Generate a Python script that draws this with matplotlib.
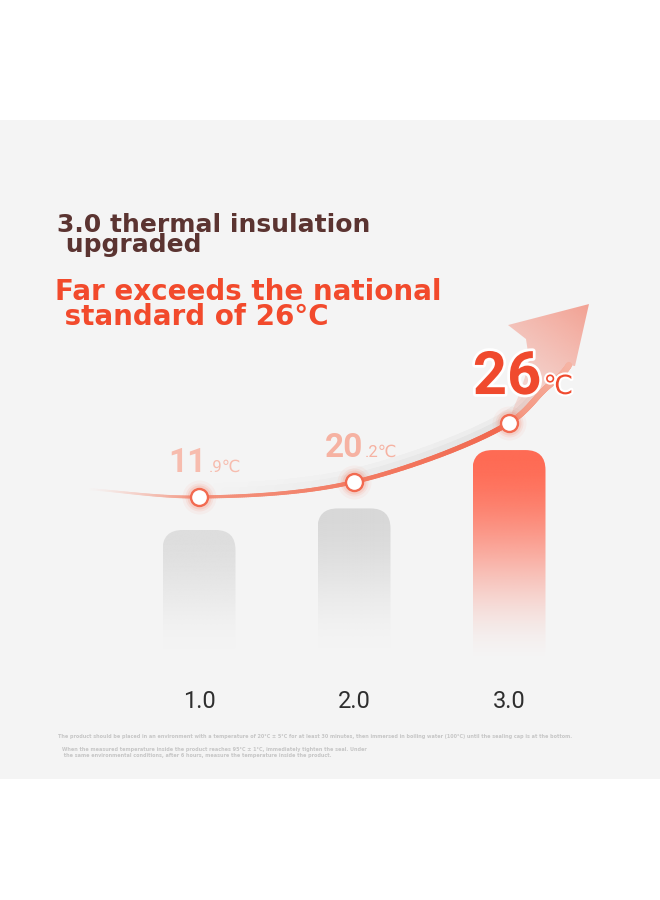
import numpy as np
import matplotlib
matplotlib.use("Agg")
import matplotlib.pyplot as plt
import matplotlib.patheffects as pe
from matplotlib.collections import LineCollection
from matplotlib.patches import FancyBboxPatch, Polygon, Rectangle
from matplotlib.colors import to_rgb

# ---------------- data ----------------
versions = [1.0, 2.0, 3.0]
version_labels = ["1.0", "2.0", "3.0"]
temps_c = [11.9, 20.2, 26.0]
title_lines = ["3.0 thermal insulation", " upgraded"]
claim_lines = ["Far exceeds the national", " standard of 26°C"]
note_lines = [
    "The product should be placed in an environment with a temperature of 20°C ± 5°C for at least 30 minutes, "
    "then immersed in boiling water (100°C) until the sealing cap is at the bottom.",
    "When the measured temperature inside the product reaches 95°C ± 1°C, immediately tighten the seal. Under",
    " the same environmental conditions, after 6 hours, measure the temperature inside the product.",
]

# ---------------- style ----------------
W, H = 660, 900
PANEL = "#f4f4f4"
RED = "#f04a2e"
BROWN = "#5b3431"
bar_colors = ["#dedede", "#d8d8d8", "#ff6a53"]
bar_fade = [1.12, 1.1, 1.02]
label_colors = ["#f7bcae", "#f6b2a2", RED]
big_sizes = [24, 24, 43]
small_sizes = [12, 12, 19]
label_offsets = [(6, 25), (7, 25), (14, 29)]   # pixels: centre shift, baseline above dot

plt.rcParams["font.family"] = ["DejaVu Sans"]

fig = plt.figure(figsize=(6.6, 9), dpi=100)
fig.patch.set_facecolor("white")

bg = fig.add_axes([0, 0, 1, 1], zorder=0)
bg.set_xlim(0, W)
bg.set_ylim(0, H)
bg.axis("off")


def Y(y_top):
    return H - y_top


def mix(c1, c2, a):
    c1 = np.array(to_rgb(c1))
    c2 = np.array(to_rgb(c2))
    return tuple(c1 * (1 - a) + c2 * a)


bg.add_patch(Rectangle((0, Y(779)), W, 659, facecolor=PANEL, edgecolor="none", zorder=0))

# ---------------- data axes (curve points) ----------------
K_CURVE = 0.258
ax = fig.add_axes([0, 401.1 / H, 1, 213.1 / H], zorder=2)
ax.set_yscale("function", functions=(lambda t: np.exp(K_CURVE * np.asarray(t, float)),
                                     lambda u: np.log(np.clip(u, 1e-12, None)) / K_CURVE))
ax.set_ylim(0, 30)
ax.set_xlim(1 - 199 / 155, 1 + (W - 199) / 155)
ax.axis("off")
ax.patch.set_visible(False)

# ---------------- bar axes ----------------
K_BAR = 0.2
axb = fig.add_axes([0, 365.4 / H, 1, 188.7 / H], sharex=ax, zorder=1)
axb.set_yscale("function", functions=(lambda t: np.exp(K_BAR * np.asarray(t, float)),
                                      lambda u: np.log(np.clip(u, 1e-12, None)) / K_BAR))
axb.set_ylim(0, 30)
axb.axis("off")
axb.patch.set_visible(False)

pts = np.column_stack([versions, temps_c])
P = ax.transData.transform(pts)      # display pixels of the points
B = axb.transData.transform(pts)     # display pixels of bar tops

# ---------------- bars ----------------
BAR_W = 73
bar_bottom = Y(668)
s = np.linspace(0, 1, 400)
for (bx, by), col, fk in zip(B, bar_colors, bar_fade):
    ss = np.clip(s * fk, 0, 1)
    alpha = 1 - (3 * ss ** 2 - 2 * ss ** 3)
    x0 = bx - BAR_W / 2
    h = by - bar_bottom
    clip = FancyBboxPatch((x0, bar_bottom), BAR_W, h,
                          boxstyle="round,pad=0,rounding_size=20",
                          facecolor="none", edgecolor="none", transform=bg.transData)
    bg.add_patch(clip)
    img = np.zeros((len(s), 1, 4))
    img[..., :3] = to_rgb(col)
    img[:, 0, 3] = alpha
    im = bg.imshow(img, extent=(x0, x0 + BAR_W, bar_bottom, by), origin="upper",
                   aspect="auto", interpolation="bilinear", zorder=1)
    im.set_clip_path(clip)


# ---------------- curve ----------------
def cr_segment(p0, p1, p2, p3, n=80, a=0.5):
    t0 = 0.0
    t1 = t0 + np.linalg.norm(p1 - p0) ** a
    t2 = t1 + np.linalg.norm(p2 - p1) ** a
    t3 = t2 + np.linalg.norm(p3 - p2) ** a
    t = np.linspace(t1, t2, n)[:, None]
    A1 = (t1 - t) / (t1 - t0) * p0 + (t - t0) / (t1 - t0) * p1
    A2 = (t2 - t) / (t2 - t1) * p1 + (t - t1) / (t2 - t1) * p2
    A3 = (t3 - t) / (t3 - t2) * p2 + (t - t2) / (t3 - t2) * p3
    B1 = (t2 - t) / (t2 - t0) * A1 + (t - t0) / (t2 - t0) * A2
    B2 = (t3 - t) / (t3 - t1) * A2 + (t - t1) / (t3 - t1) * A3
    return (t2 - t) / (t2 - t1) * B1 + (t - t1) / (t2 - t1) * B2


D1, D2, D3 = P
start = D1 + np.array([-112.0, 8.0])
mid = D3 + np.array([35.0, 33.0])
end = D3 + np.array([60.0, 58.0])
tip = D3 + np.array([80.0, 119.0])
ctrl = np.array([start, D1, D2, D3, mid, end, tip])
ext = np.vstack([2 * ctrl[0] - ctrl[1], ctrl, 2 * ctrl[-1] - ctrl[-2]])
segs = [cr_segment(ext[i - 1], ext[i], ext[i + 1], ext[i + 2]) for i in range(1, len(ext) - 2)]


def draw_line(curve, colors, widths, z, offset=(0, 0)):
    c = curve + np.array(offset)
    segments = np.stack([c[:-1], c[1:]], axis=1)
    lc = LineCollection(segments, colors=colors, linewidths=np.asarray(widths) * 0.72,
                        capstyle="round", joinstyle="round", zorder=z)
    bg.add_collection(lc)


# grey shadow above the curve
shadow_curve = np.vstack(segs[1:4])
n_sh = len(shadow_curve) - 1
u = np.linspace(0, 1, n_sh)
ramp = np.clip(u * 1.6, 0, 1) * np.clip((1 - u) * 5, 0, 1)
for off, wd, k in [(9, 9, 0.22), (5, 7, 0.45)]:
    cols = [mix(PANEL, "#cfcfcf", k * r) for r in ramp]
    draw_line(shadow_curve, cols, [wd] * n_sh, 2, offset=(0, off))

# head / shaft of the arrow (gradient polygon)
line_up = np.vstack(segs[3:5])
upper_edge = np.array([D3 + np.array(v) for v in [(4, 14), (10, 28), (16, 46), (20, 64), (17, 84)]])
barb = D3 + np.array([-1.0, 98.0])
right_barb = D3 + np.array([66.0, 57.0])
poly = np.vstack([line_up, right_barb, tip, barb, upper_edge[::-1]])
head = Polygon(poly, closed=True, facecolor="none", edgecolor="none", transform=bg.transData)
bg.add_patch(head)
xmn, ymn = poly.min(axis=0)
xmx, ymx = poly.max(axis=0)
nx, ny = 120, 160
gx, gy = np.meshgrid(np.linspace(xmn, xmx, nx), np.linspace(ymx, ymn, ny))
d = tip - (D3 + np.array([-5.0, 5.0]))
proj = ((gx - D3[0] + 5) * d[0] + (gy - D3[1] - 5) * d[1]) / np.dot(d, d)
proj = np.clip(proj, 0, 1)
gimg = np.zeros((ny, nx, 4))
gimg[..., :3] = to_rgb("#f26a52")
gimg[..., 3] = 0.14 + 0.46 * proj ** 1.2
him = bg.imshow(gimg, extent=(xmn, xmx, ymn, ymx), origin="upper", aspect="auto",
                interpolation="bilinear", zorder=3)
him.set_clip_path(head)

# main red line
main = [segs[0], segs[1], segs[2]]
styles = [(("#f4f4f4", "#f39a86"), (1.6, 3.0)),
          (("#f39580", "#f27c64"), (3.0, 4.2)),
          (("#f27c64", "#f1664d"), (4.2, 5.4))]
seg_list, cols_full, wds_full = [], [], []
for idx, (seg, ((c_a, c_b), (w_a, w_b))) in enumerate(zip(main, styles)):
    n = len(seg) - 1
    for j in range(n):
        f = j / n
        if idx == 0:
            f = min(1.0, (f ** 1.3) * 1.1)
        seg_list.append([seg[j], seg[j + 1]])
        cols_full.append(mix(c_a, c_b, f))
        wds_full.append(w_a + (w_b - w_a) * (j / n))
bg.add_collection(LineCollection(np.array(seg_list), colors=cols_full,
                                 linewidths=np.array(wds_full) * 0.72,
                                 capstyle="round", joinstyle="round", zorder=4))

# lighter continuation after the last point
n_up = len(line_up) - 1
draw_line(line_up, [mix("#f4957f", "#f6b3a3", j / n_up) for j in range(n_up)],
          [5.4 + 0.8 * j / n_up for j in range(n_up)], 4)

# ---------------- dots ----------------
for rad, al in [(17, 0.06), (14, 0.10), (12, 0.16)]:
    ax.scatter(versions, temps_c, s=(2 * rad * 0.72) ** 2, color="#f47a60", alpha=al,
               linewidths=0, zorder=5, clip_on=False)
ax.scatter(versions, temps_c, s=(17 * 0.72) ** 2, facecolor="white", edgecolor="#f26a50",
           linewidths=1.7, zorder=6, clip_on=False)

# ---------------- value labels ----------------
renderer = fig.canvas.get_renderer()
num_font = ["Roboto", "DejaVu Sans"]
for i, t in enumerate(temps_c):
    txt = f"{t:.1f}"
    if txt.endswith(".0"):
        big, small = txt[:-2], "℃"
    else:
        big, small = txt.split(".")[0], "." + txt.split(".")[1] + "℃"
    tb = bg.text(0, 0, big, fontsize=big_sizes[i], family=num_font, weight="bold",
                 color=label_colors[i], va="baseline", ha="left", zorder=8)
    ts = bg.text(0, 0, small, fontsize=small_sizes[i], family=num_font, weight="normal",
                 color=label_colors[i], va="baseline", ha="left", zorder=8)
    wb = tb.get_window_extent(renderer).width
    wsm = ts.get_window_extent(renderer).width
    cx = P[i][0] + label_offsets[i][0]
    base = P[i][1] + label_offsets[i][1]
    left = cx - (wb + wsm + 2) / 2
    tb.set_position((left, base))
    ts.set_position((left + wb + 2, base))
    if i == len(temps_c) - 1:
        tb.set_path_effects([pe.withStroke(linewidth=4, foreground="white")])
        ts.set_path_effects([pe.withStroke(linewidth=3, foreground="white")])

# ---------------- category labels ----------------
for xv, lab in zip(versions, version_labels):
    px_x = ax.transData.transform((xv, 10))[0]
    bg.text(px_x, Y(708), lab, fontsize=17, family=["Roboto", "DejaVu Sans"], weight="normal",
            color="#2e2e2e", ha="center", va="baseline", zorder=8)

# ---------------- titles (multi-line: baseline = last line) ----------------
bg.text(57, Y(252), "\n".join(title_lines), fontsize=18, weight="bold", color=BROWN,
        va="baseline", linespacing=0.78, zorder=8)
bg.text(55, Y(325), "\n".join(claim_lines), fontsize=20, weight="bold", color="#f24a2c",
        va="baseline", linespacing=0.88, zorder=8)

# ---------------- notes ----------------
bg.text(58, Y(738), note_lines[0], fontsize=3.5, weight="bold", color="#c6c6c6", va="baseline", zorder=8)
bg.text(62, Y(757), "\n".join(note_lines[1:]), fontsize=3.5, weight="bold", color="#c6c6c6",
        va="baseline", linespacing=1.3, zorder=8)

bg.set_xlim(0, W)
bg.set_ylim(0, H)
fig.savefig("out.png", dpi=100, facecolor="white")
